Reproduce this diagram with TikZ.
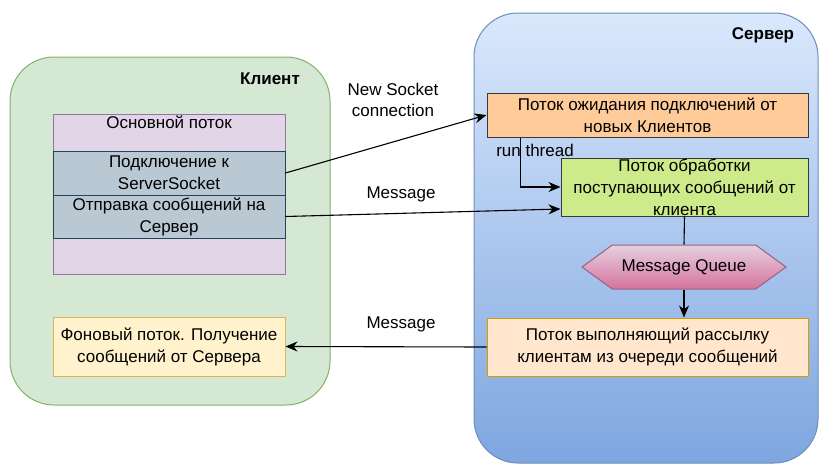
\documentclass[tikz,border=0pt]{standalone}
\usepackage{fontspec}
\setmainfont{Liberation Sans}
\usepackage{xcolor}
\usetikzlibrary{arrows.meta, positioning, shapes.symbols}

\definecolor{clientfill}{HTML}{D5E8D4}
\definecolor{clientline}{HTML}{82B366}
\definecolor{serverlight}{HTML}{DAE8FC}
\definecolor{serverdark}{HTML}{7EA6E0}
\definecolor{serverline}{HTML}{6C8EBF}
\definecolor{mainfill}{HTML}{E1D5E7}
\definecolor{mainline}{HTML}{9673A6}
\definecolor{subfill}{HTML}{BAC8D3}
\definecolor{subline}{HTML}{23445D}
\definecolor{bgfill}{HTML}{FFF2CC}
\definecolor{bgline}{HTML}{D6B656}
\definecolor{waitfill}{HTML}{FFCC99}
\definecolor{handlefill}{HTML}{CDEB8B}
\definecolor{darkline}{HTML}{36393D}
\definecolor{sendfill}{HTML}{FFE6CC}
\definecolor{sendline}{HTML}{D79B00}
\definecolor{queuelight}{HTML}{E6D0DE}
\definecolor{queuedark}{HTML}{D5739D}
\definecolor{queueline}{HTML}{996185}

\tikzset{
    container/.style={draw, line width=1pt, rounded corners=44pt, inner sep=0pt},
    threadbox/.style={draw, line width=1pt, align=center, inner sep=0pt,
        font=\fontsize{17}{22}\selectfont},
    flow/.style={line width=1.1pt, -{Stealth[length=12pt, width=10pt]}},
    msg/.style={font=\fontsize{17}{21}\selectfont, align=center}
}

\begin{document}
\begin{tikzpicture}[x=1pt, y=-1pt]
        \useasboundingbox[fill=white] (0,0) rectangle (833,469);

        % клиент
        \node[container, fill=clientfill, draw=clientline,
            minimum width=320pt, minimum height=348pt] (client) at (170,231) {};
        \node[font=\fontsize{17}{20}\selectfont\bfseries] (clienttitle) at (270,79) {Клиент};
        \node[threadbox, fill=mainfill, draw=mainline, minimum width=232pt, minimum height=160pt,
            label={[anchor=north, inner sep=0pt, yshift=-2pt, font=\fontsize{17}{20}\selectfont]north:Основной поток}]
            (mainthread) at (169,194.5) {};
        \node[threadbox, fill=subfill, draw=subline, minimum width=232pt, minimum height=44pt]
            (connect) at (169,173) {Подключение к\\ServerSocket};
        \node[threadbox, fill=subfill, draw=subline, minimum width=232pt, minimum height=43pt]
            (sendmsg) at (169,216.5) {Отправка сообщений на\\Сервер};
        \node[threadbox, fill=bgfill, draw=bgline, minimum width=232pt, minimum height=59pt]
            (receive) at (169,346.5) {Фоновый поток. Получение\\сообщений от Сервера};

        % сервер
        \node[container, top color=serverlight, bottom color=serverdark, draw=serverline,
            minimum width=344pt, minimum height=450pt] (server) at (646,238) {};
        \node[font=\fontsize{17}{20}\selectfont\bfseries] (servertitle) at (763,35) {Сервер};
        \node[threadbox, fill=waitfill, draw=darkline, minimum width=321pt, minimum height=44pt]
            (waiting) at (647.5,115) {Поток ожидания подключений от\\новых Клиентов};
        \node[threadbox, fill=handlefill, draw=darkline, minimum width=247pt, minimum height=58pt]
            (handler) at (684.5,187) {Поток обработки\\поступающих сообщений от\\клиента};
        \node[signal, signal to=east and west, signal pointer angle=72, draw=queueline, line width=1pt,
            top color=queuelight, bottom color=queuedark, minimum width=204pt, minimum height=44pt,
            inner sep=0pt, font=\fontsize{17}{20}\selectfont] (queue) at (684,267) {Message Queue};
        \node[threadbox, fill=sendfill, draw=sendline, minimum width=321pt, minimum height=58pt]
            (sender) at (647.5,347) {Поток выполняющий рассылку\\клиентам из очереди сообщений};

        % связи
        \draw[flow] (connect.east) -- (waiting.west);
        \draw[flow] (sendmsg.east) -- ([yshift=-22pt]handler.west);
        \draw[flow] ([xshift=34pt]waiting.south west) |- (handler.west);
        \draw[line width=1.1pt] (handler.south) -- (queue.north);
        \draw[flow] (queue.south) -- (queue.south |- sender.north);
        \draw[flow] (sender.west) -- (receive.east);

        \node[msg] (newsocket) at (393,100) {New Socket\\connection};
        \node[msg] (msgout) at (401,194) {Message};
        \node[msg] (msgback) at (401,324) {Message};
        \node[msg] (runthread) at (535,150) {run thread};
    \end{tikzpicture}
\end{document}
